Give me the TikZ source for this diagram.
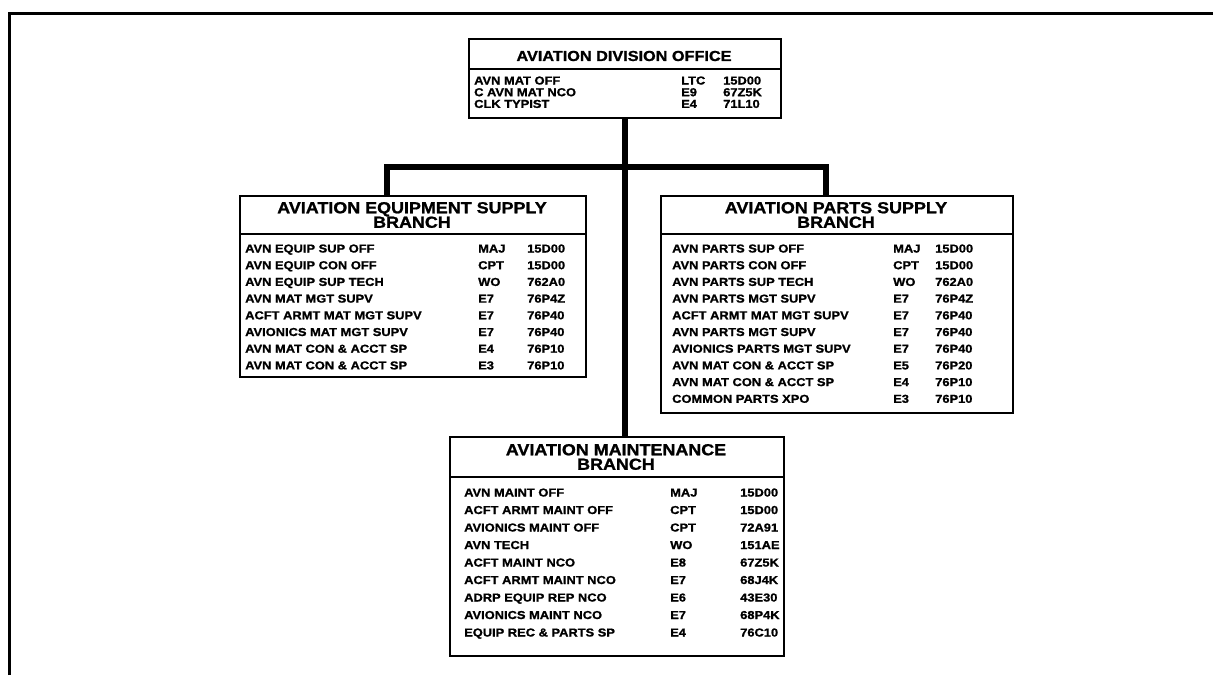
\documentclass[tikz,border=0pt]{standalone}
\usepackage{fontspec}
\newfontfamily\orgfont[FakeStretch=1.12, BoldFeatures={FakeBold=1.2}]{Liberation Sans}
\begin{document}
\begin{tikzpicture}[x=1pt,y=-1pt,
  frame/.style={line width=3pt},
  box/.style={draw, line width=2pt, inner sep=0pt, anchor=north west},
  sep/.style={line width=1.8pt},
  ttl/.style={font=\orgfont\bfseries\fontsize{16}{14.5}\selectfont, align=center, inner sep=0pt},
  ttlsmall/.style={font=\orgfont\bfseries\fontsize{14.5}{14}\selectfont, align=center, inner sep=0pt},
  rowtxt/.style={font=\orgfont\bfseries\fontsize{11.5}{12}\selectfont, inner sep=0pt, anchor=base west},
  conn/.style={line width=6pt, line join=miter}]
\useasboundingbox (0,0) rectangle (1213,675);
\draw[frame] (9,675) -- (9,13) -- (1213,13);

% ---- division office
\node[box, minimum width=312pt, minimum height=79pt] (div) at (468,38) {};
\node[ttlsmall] (divt) at (624,56) {AVIATION DIVISION OFFICE};
\draw[sep] (468,69) -- (780,69);
\foreach \a/\b/\c [count=\i from 0] in {AVN MAT OFF/LTC/15D00, C AVN MAT NCO/E9/67Z5K, CLK TYPIST/E4/71L10} {
  \node[rowtxt] (div-n\i) at (474,{84.5+11.7*\i}) {\a};
  \node[rowtxt] (div-r\i) at (681,{84.5+11.7*\i}) {\b};
  \node[rowtxt] (div-c\i) at (723,{84.5+11.7*\i}) {\c};
}

% ---- equipment supply branch
\node[box, minimum width=346pt, minimum height=181pt] (eq) at (239,195) {};
\node[ttl] (eqt) at (412,215) {AVIATION EQUIPMENT SUPPLY\\BRANCH};
\draw[sep] (239,234) -- (585,234);
\foreach \a/\b/\c [count=\i from 0] in {AVN EQUIP SUP OFF/MAJ/15D00, AVN EQUIP CON OFF/CPT/15D00, AVN EQUIP SUP TECH/WO/762A0, AVN MAT MGT SUPV/E7/76P4Z, ACFT ARMT MAT MGT SUPV/E7/76P40, AVIONICS MAT MGT SUPV/E7/76P40, AVN MAT CON \& ACCT SP/E4/76P10, AVN MAT CON \& ACCT SP/E3/76P10} {
  \node[rowtxt] (eq-n\i) at (245,{252.5+16.7*\i}) {\a};
  \node[rowtxt] (eq-r\i) at (478,{252.5+16.7*\i}) {\b};
  \node[rowtxt] (eq-c\i) at (527,{252.5+16.7*\i}) {\c};
}

% ---- parts supply branch
\node[box, minimum width=352pt, minimum height=217pt] (ps) at (660,195) {};
\node[ttl] (pst) at (836,215) {AVIATION PARTS SUPPLY\\BRANCH};
\draw[sep] (660,234) -- (1012,234);
\foreach \a/\b/\c [count=\i from 0] in {AVN PARTS SUP OFF/MAJ/15D00, AVN PARTS CON OFF/CPT/15D00, AVN PARTS SUP TECH/WO/762A0, AVN PARTS MGT SUPV/E7/76P4Z, ACFT ARMT MAT MGT SUPV/E7/76P40, AVN PARTS MGT SUPV/E7/76P40, AVIONICS PARTS MGT SUPV/E7/76P40, AVN MAT CON \& ACCT SP/E5/76P20, AVN MAT CON \& ACCT SP/E4/76P10, COMMON PARTS XPO/E3/76P10} {
  \node[rowtxt] (ps-n\i) at (672,{252.5+16.7*\i}) {\a};
  \node[rowtxt] (ps-r\i) at (893,{252.5+16.7*\i}) {\b};
  \node[rowtxt] (ps-c\i) at (935,{252.5+16.7*\i}) {\c};
}

% ---- maintenance branch
\node[box, minimum width=334pt, minimum height=219pt] (mn) at (449,436) {};
\node[ttl] (mnt) at (616,457) {AVIATION MAINTENANCE\\BRANCH};
\draw[sep] (449,477) -- (783,477);
\foreach \a/\b/\c [count=\i from 0] in {AVN MAINT OFF/MAJ/15D00, ACFT ARMT MAINT OFF/CPT/15D00, AVIONICS MAINT OFF/CPT/72A91, AVN TECH/WO/151AE, ACFT MAINT NCO/E8/67Z5K, ACFT ARMT MAINT NCO/E7/68J4K, ADRP EQUIP REP NCO/E6/43E30, AVIONICS MAINT NCO/E7/68P4K, EQUIP REC \& PARTS SP/E4/76C10} {
  \node[rowtxt] (mn-n\i) at (464,{496.5+17.5*\i}) {\a};
  \node[rowtxt] (mn-r\i) at (670,{496.5+17.5*\i}) {\b};
  \node[rowtxt] (mn-c\i) at (740,{496.5+17.5*\i}) {\c};
}

% ---- connectors
\coordinate (jl) at (387,167);
\coordinate (jr) at (826,167);
\draw[conn] (eq.north -| jl) -- (jl) -- (jr) -- (ps.north -| jr);
\draw[conn] (div.south) -- (div.south |- mn.north);
\end{tikzpicture}
\end{document}
